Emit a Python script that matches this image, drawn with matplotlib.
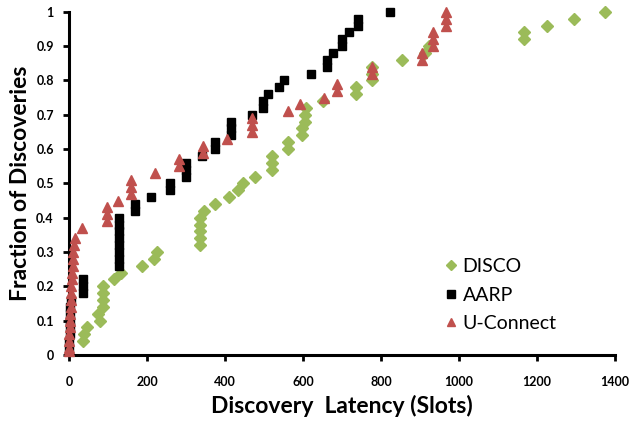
import matplotlib
matplotlib.use("Agg")
import matplotlib.pyplot as plt

# ── data (latency in slots, cumulative fraction) ─────────────────────────────
disco_x = [36, 38, 47, 78, 75, 86, 86, 86, 86, 114, 133, 187, 218, 225,
           336, 336, 336, 336, 336, 346, 373, 410, 434, 447, 477,
           520, 520, 520, 562, 562, 597, 597, 605, 605, 608, 650,
           736, 736, 778, 778, 778, 855, 913, 924, 1167, 1167, 1226, 1295, 1374]
disco_y = [0.04, 0.06, 0.08, 0.10, 0.12, 0.14, 0.16, 0.18, 0.20, 0.22, 0.24, 0.26, 0.28, 0.30,
           0.32, 0.34, 0.36, 0.38, 0.40, 0.42, 0.44, 0.46, 0.48, 0.50, 0.52,
           0.54, 0.56, 0.58, 0.60, 0.62, 0.64, 0.66, 0.68, 0.70, 0.72, 0.74,
           0.76, 0.78, 0.80, 0.82, 0.84, 0.86, 0.88, 0.90, 0.92, 0.94, 0.96, 0.98, 1.00]

aarp_x = [1, 1, 2, 2, 2, 3, 3, 4, 36, 36, 36,
          127, 127, 127, 127, 127, 127, 127, 127, 168, 168, 209, 258, 258,
          299, 299, 299, 340, 373, 373, 414, 414, 414, 468, 496, 496, 509,
          538, 550, 620, 661, 661, 678, 701, 701, 719, 742, 742, 823]
aarp_y = [0.02, 0.04, 0.06, 0.08, 0.10, 0.12, 0.14, 0.16, 0.18, 0.20, 0.22,
          0.26, 0.28, 0.30, 0.32, 0.34, 0.36, 0.38, 0.40, 0.42, 0.44, 0.46, 0.48, 0.50,
          0.52, 0.54, 0.56, 0.58, 0.60, 0.62, 0.64, 0.66, 0.68, 0.70, 0.72, 0.74, 0.76,
          0.78, 0.80, 0.82, 0.84, 0.86, 0.88, 0.90, 0.92, 0.94, 0.96, 0.98, 1.00]

uconn_x = [0, 0, 1, 1, 2, 3, 3, 4, 5, 5, 6, 7, 8, 9, 10, 11, 13, 15, 33,
           97, 97, 97, 126, 158, 158, 158, 220, 282, 282, 344, 344, 406,
           468, 468, 468, 561, 592, 655, 686, 686, 778, 778, 904, 904,
           934, 934, 934, 966, 966, 966]
uconn_y = [0.01, 0.02, 0.04, 0.06, 0.08, 0.10, 0.12, 0.14, 0.16, 0.18, 0.20, 0.22, 0.24,
           0.26, 0.28, 0.30, 0.32, 0.34, 0.37,
           0.39, 0.41, 0.43, 0.45, 0.47, 0.49, 0.51, 0.53, 0.55, 0.57, 0.59, 0.61, 0.63,
           0.65, 0.67, 0.69, 0.71, 0.73, 0.75, 0.77, 0.79, 0.82, 0.84, 0.86, 0.88,
           0.90, 0.92, 0.94, 0.96, 0.98, 1.00]

x_ticks = [0, 200, 400, 600, 800, 1000, 1200, 1400]
y_ticks = [0, 0.1, 0.2, 0.3, 0.4, 0.5, 0.6, 0.7, 0.8, 0.9, 1]
y_tick_labels = ["0", "0.1", "0.2", "0.3", "0.4", "0.5", "0.6", "0.7", "0.8", "0.9", "1"]

# Excel 2007 palette
GREEN = "#9BBB59"
RED = "#C0504D"

plt.rcParams["font.family"] = ["Lato", "DejaVu Sans"]

fig = plt.figure(figsize=(6.34, 4.24), dpi=100)
ax = fig.add_axes([0.109, 0.163, 0.861, 0.809])

ax.plot(disco_x, disco_y, ls="none", marker="D", ms=6.5, color=GREEN,
        mec=GREEN, label="DISCO", zorder=3, clip_on=False)
ax.plot(aarp_x, aarp_y, ls="none", marker="s", ms=6.3, color="black",
        label="AARP", zorder=4, clip_on=False)
ax.plot(uconn_x, uconn_y, ls="none", marker="^", ms=7.5, color=RED,
        mec=RED, label="U-Connect", zorder=5, clip_on=False)

ax.set_xlim(0, 1400)
ax.set_ylim(0, 1)
ax.set_xticks(x_ticks)
ax.set_yticks(y_ticks)
ax.set_yticklabels(y_tick_labels)

for side in ("top", "right"):
    ax.spines[side].set_visible(False)
for side in ("left", "bottom"):
    ax.spines[side].set_linewidth(2.2)
ax.tick_params(axis="both", direction="out", length=4, width=2,
               labelsize=9)
ax.tick_params(axis="x", pad=11)
ax.tick_params(axis="y", pad=7)
for lab in ax.get_xticklabels() + ax.get_yticklabels():
    lab.set_fontweight("bold")

ax.set_xlabel("Discovery  Latency (Slots)", fontsize=16.5, fontweight="bold",
              labelpad=5)
ax.set_ylabel("Fraction of Discoveries", fontsize=16.5, fontweight="bold",
              labelpad=4)

# legend sits inside the plot, lower right, no frame
leg = ax.legend(loc="lower right", bbox_to_anchor=(0.925, 0.015), frameon=False,
                fontsize=14, handletextpad=0.25, labelspacing=0.6,
                handlelength=0.7, markerscale=0.85)

fig.savefig("out.png", dpi=100)
